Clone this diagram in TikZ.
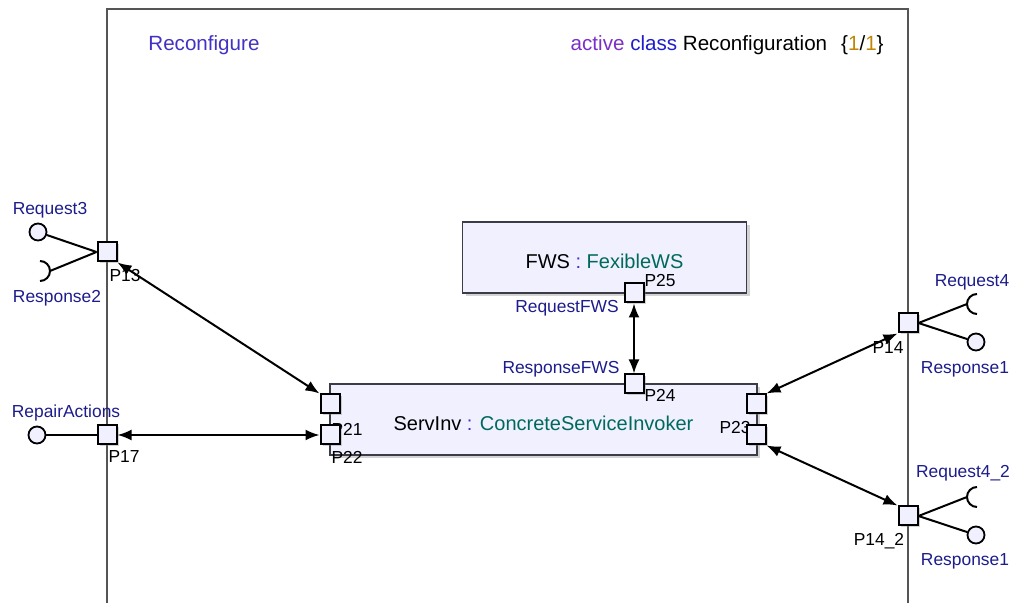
\documentclass[tikz,border=0pt]{standalone}
\usepackage{fontspec}
\setmainfont{Liberation Sans}
\usetikzlibrary{arrows.meta,shadows}
\usepackage{xcolor}
\definecolor{portfill}{HTML}{F0F0FF}
\definecolor{boxline}{HTML}{3C3C46}
\definecolor{framegray}{HTML}{555555}
\definecolor{ifblue}{HTML}{1C1C8C}
\definecolor{typeteal}{HTML}{00695C}
\definecolor{namecolor}{HTML}{4232C4}
\definecolor{kwpurple}{HTML}{7A30C8}
\definecolor{kwblue}{HTML}{1E1ECD}
\definecolor{multorange}{HTML}{C0860A}

\begin{document}
\begin{tikzpicture}[x=0.5pt,y=-0.5pt,
  part/.style={draw=boxline,fill=portfill,line width=.7pt,minimum height=35.5pt,inner sep=0pt,text height=11pt,text depth=0pt,font=\fontsize{10}{12}\selectfont,drop shadow={shadow xshift=1.5pt,shadow yshift=-1.5pt,opacity=.35}},
  port/.style={draw=black,fill=portfill,line width=1pt,minimum size=9.5pt,inner sep=0pt,drop shadow={shadow xshift=1pt,shadow yshift=-1pt,opacity=.35}},
  ball/.style={circle,draw=black,fill=portfill,line width=.9pt,minimum size=8.5pt,inner sep=0pt},
  plabel/.style={inner sep=0pt,text height=6.2pt,text depth=0pt,font=\fontsize{8.7}{10}\selectfont},
  ilabel/.style={plabel,text=ifblue},
  link/.style={{Latex[length=7pt,width=5.5pt]}-{Latex[length=7pt,width=5.5pt]},line width=1pt},
  wire/.style={line width=1pt},
  frame/.style={draw=framegray,line width=.6pt},
  head/.style={inner sep=0pt,font=\fontsize{10.3}{12}\selectfont}
]
\useasboundingbox (0,0) rectangle (1012,603);

% enclosing class frame
\draw[frame] (107,603) -- (107,9) -- (908,9) -- (908,603);
\node[head,anchor=base west,text=namecolor] (cname) at (148,51) {Reconfigure};
\node[head,anchor=base east] (ckind) at (884,51) {\textcolor{kwpurple}{active} \textcolor{kwblue}{class} Reconfiguration\hspace{7pt}\{\textcolor{multorange}{1}/\textcolor{multorange}{1}\}};

% parts
\node[part,minimum width=142pt] (fws) at (604.5,257.5) {FWS \textcolor{namecolor}{:} \textcolor{typeteal}{FexibleWS}};
\node[part,minimum width=213.5pt] (inv) at (543.5,419.5) {ServInv \textcolor{namecolor}{:} \textcolor{typeteal}{ConcreteServiceInvoker}};

% port names
\foreach \nm/\x/\y/\txt in {l13/125/275/P13, l17/124/456/P17, l21/347/429/P21, l22/347/457/P22,
  l23/735/427/P23, l24/660/395/P24, l25/660/280/P25, l14/888/347/P14, l142/879/539/P14\_2}
  \node[plabel] (\nm) at (\x,\y) {\txt};

% interface names
\node[ilabel] (lreq3) at (50,208) {Request3};
\node[ilabel] (lresp2) at (57,296) {Response2};
\node[ilabel] (lrep) at (66,411) {RepairActions};
\node[ilabel] (lreqfws) at (567,306) {RequestFWS};
\node[ilabel] (lrespfws) at (561,367) {ResponseFWS};
\node[ilabel] (lreq4) at (972,280) {Request4};
\node[ilabel] (lresp1a) at (965,367) {Response1};
\node[ilabel] (lreq42) at (963,471) {Request4\_2};
\node[ilabel] (lresp1b) at (965,559) {Response1};

% ports
\node[port] (p13) at (107,252) {};
\node[port] (p17) at (107,435) {};
\node[port] (p14) at (908,323) {};
\node[port] (p142) at (908,516) {};
\node[port] (p25) at (634,293) {};
\node[port] (p24) at (634,384) {};
\node[port] (p21) at (330,404) {};
\node[port] (p22) at (330,435) {};
\node[port] (p23a) at (756,404) {};
\node[port] (p23b) at (756,435) {};

% connectors
\draw[link] (p13.south east) -- (p21.north west);
\draw[link] (p17.east) -- (p22.west);
\draw[link] (p25.south) -- (p24.north);
\draw[link] (p14.south west) -- (p23a.north east);
\draw[link] (p23b.south east) -- (p142.north west);

% provided / required interfaces
\node[ball] (req3) at (38,232) {};
\draw[wire] (req3) -- (p13.west);
\coordinate (resp2) at (50,271);
\draw[wire] (p13.west) -- (resp2) arc[start angle=0,end angle=90,radius=5pt];
\draw[wire] (resp2) arc[start angle=0,end angle=-90,radius=5pt];
\node[ball] (repair) at (37,435) {};
\draw[wire] (repair) -- (p17.west);
\coordinate (req4) at (967,304);
\draw[wire] (p14.east) -- (req4) arc[start angle=180,end angle=90,radius=5pt];
\draw[wire] (req4) arc[start angle=180,end angle=270,radius=5pt];
\node[ball] (resp1a) at (976,342) {};
\draw[wire] (p14.east) -- (resp1a);
\coordinate (req42) at (967,497);
\draw[wire] (p142.east) -- (req42) arc[start angle=180,end angle=90,radius=5pt];
\draw[wire] (req42) arc[start angle=180,end angle=270,radius=5pt];
\node[ball] (resp1b) at (976,535) {};
\draw[wire] (p142.east) -- (resp1b);
\end{tikzpicture}
\end{document}
